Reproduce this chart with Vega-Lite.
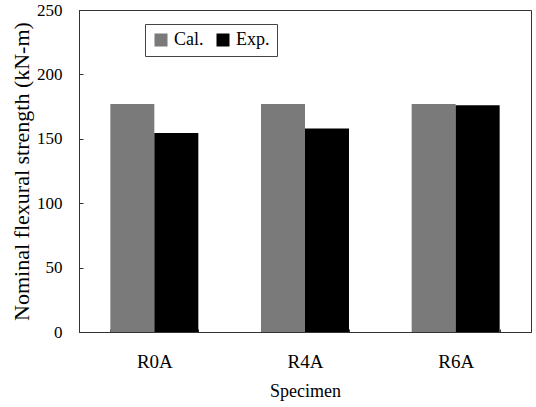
{
  "$schema": "https://vega.github.io/schema/vega-lite/v6.json",
  "width": 452,
  "height": 322,
  "autosize": "none",
  "padding": {"left": 79, "top": 10, "right": 5, "bottom": 75},
  "background": "white",
  "config": {
    "font": "Liberation Serif",
    "axis": {"labelFont": "Liberation Serif", "titleFont": "Liberation Serif"},
    "legend": {"labelFont": "Liberation Serif", "titleFont": "Liberation Serif"},
    "view": {"stroke": "#333", "strokeWidth": 1}
  },
  "data": {
    "values": [
      {"Specimen": "R0A", "Type": "Cal.", "Value": 177},
      {"Specimen": "R0A", "Type": "Exp.", "Value": 154.5},
      {"Specimen": "R4A", "Type": "Cal.", "Value": 177},
      {"Specimen": "R4A", "Type": "Exp.", "Value": 158},
      {"Specimen": "R6A", "Type": "Cal.", "Value": 177},
      {"Specimen": "R6A", "Type": "Exp.", "Value": 176}
    ]
  },
  "mark": {"type": "bar"},
  "encoding": {
    "x": {
      "field": "Specimen",
      "type": "nominal",
      "scale": {"paddingInner": 0.416, "paddingOuter": 0.208},
      "axis": {
        "title": "Specimen",
        "labelAngle": 0,
        "labelFont": "Liberation Serif",
        "labelFontSize": 19,
        "labelColor": "black",
        "labelPadding": 23,
        "tickBand": "extent",
        "tickSize": -3,
        "tickColor": "#333",
        "domainColor": "#333",
        "titleFont": "Liberation Serif",
        "titleFontSize": 18,
        "titleFontWeight": "normal",
        "titleColor": "black",
        "titlePadding": 11
      }
    },
    "xOffset": {"field": "Type", "type": "nominal", "sort": ["Cal.", "Exp."]},
    "y": {
      "field": "Value",
      "type": "quantitative",
      "scale": {"domain": [0, 250]},
      "axis": {
        "title": "Nominal flexural strength (kN-m)",
        "values": [0, 50, 100, 150, 200, 250],
        "grid": false,
        "labelFont": "Liberation Serif",
        "labelFontSize": 17,
        "labelColor": "black",
        "labelPadding": 21,
        "tickSize": -4,
        "tickColor": "#333",
        "domainColor": "#333",
        "titleFont": "Liberation Serif",
        "titleFontSize": 22,
        "titleFontWeight": "normal",
        "titleColor": "black",
        "titlePadding": 3
      }
    },
    "color": {
      "field": "Type",
      "type": "nominal",
      "scale": {"domain": ["Cal.", "Exp."], "range": ["#7a7a7a", "#000000"]},
      "legend": {
        "title": null,
        "orient": "none",
        "legendX": 66,
        "legendY": 14,
        "direction": "horizontal",
        "symbolType": "square",
        "symbolSize": 169,
        "symbolStrokeWidth": 0,
        "labelFont": "Liberation Serif",
        "labelFontSize": 18,
        "labelColor": "black",
        "columnPadding": 10,
        "labelOffset": 4,
        "strokeColor": "#444",
        "padding": 7,
        "fillColor": "white"
      }
    }
  }
}
